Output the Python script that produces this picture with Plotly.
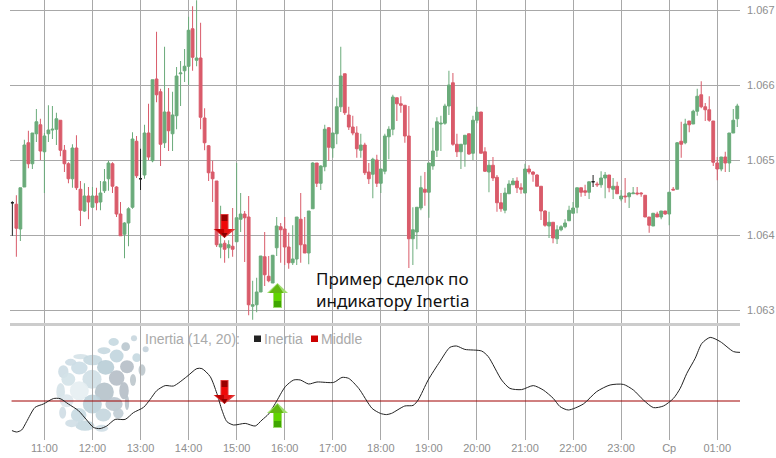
import plotly.graph_objects as go

W, H = 776, 458

# Quotes in points (1e-5) above 1.06000, one row per hour of 5-minute candles
BASE = 1.06
opens_pts = [
 443,441,408,464,523,495,535,547,511,535,540,541,
 553,513,495,475,516,461,432,452,437,452,444,459,
 475,495,464,428,401,416,437,525,475,480,536,499,
 608,591,523,564,535,559,615,619,625,675,633,636,
 556,519,484,472,384,389,383,385,391,421,428,424,
 305,307,324,371,345,336,383,411,408,384,363,368,
 421,387,376,435,496,469,491,543,516,535,571,615,
 560,544,536,513,520,484,481,500,469,485,531,541,
 583,575,573,532,395,404,436,461,457,492,513,548,
 549,572,603,521,511,521,535,509,553,564,511,484,
 493,477,443,433,455,467,472,463,456,488,484,480,
 465,432,412,417,395,407,411,419,429,437,463,459,
 457,471,468,467,476,480,461,465,448,452,451,455,
 456,456,453,424,412,428,424,432,428,461,461,525,
 523,552,548,565,587,571,567,552,496,488,504,496,
 536,555]
closes_pts = [
 443,409,463,520,495,536,551,512,532,540,541,555,
 513,495,475,516,463,433,452,444,452,443,456,471,
 496,465,428,399,416,435,528,479,475,536,504,607,
 587,521,564,539,560,612,616,625,673,637,636,557,
 523,483,475,387,388,381,387,381,423,428,423,307,
 307,324,372,347,339,373,412,407,384,363,368,424,
 387,376,432,496,469,492,541,517,536,571,612,563,
 544,536,515,520,483,475,501,469,488,532,541,584,
 575,573,532,395,407,437,463,457,496,512,551,549,
 572,600,521,511,521,533,508,553,564,509,485,493,
 476,443,435,456,468,472,463,461,488,484,481,465,
 432,413,417,396,407,411,416,433,436,463,457,457,
 471,471,467,476,480,463,465,455,452,451,456,456,
 455,455,424,413,429,424,432,428,457,460,523,521,
 548,547,565,585,571,567,553,497,488,504,496,536,
 553,572]
highs_pts = [
 445,453,463,527,539,536,568,555,536,573,572,563,
 553,520,497,521,533,472,469,464,464,463,472,488,
 499,497,465,444,417,437,537,532,515,547,575,607,
 671,595,651,596,591,624,632,648,691,705,713,683,
 569,520,499,472,439,393,393,436,496,456,432,452,
 339,343,372,404,372,373,424,416,424,403,413,424,
 456,424,432,497,496,493,547,544,536,583,651,615,
 571,559,545,535,523,496,503,507,488,535,545,587,
 583,585,573,572,437,437,479,484,496,543,557,559,
 575,619,616,535,521,533,535,559,571,564,517,500,
 504,480,456,463,473,476,477,469,495,493,485,481,
 465,433,431,417,413,413,421,439,444,463,463,467,
 471,480,471,485,484,480,476,471,460,476,457,464,
 464,457,453,424,429,431,432,432,457,464,524,551,
 555,552,567,595,605,576,585,552,504,504,511,536,
 568,575]
lows_pts = [
 399,371,392,464,489,488,524,500,456,524,528,520,
 505,484,469,463,460,412,431,421,437,433,433,456,
 459,456,424,399,369,385,435,476,460,475,500,497,
 577,492,516,512,512,541,572,604,600,619,625,541,
 513,472,444,384,369,363,369,371,391,404,364,293,
 287,297,324,332,337,336,372,363,360,355,360,360,
 363,376,361,435,464,460,485,499,503,521,564,560,
 540,533,503,503,480,468,449,464,456,481,501,533,
 552,563,523,356,360,381,433,439,423,487,504,512,
 547,560,519,504,488,491,507,500,549,509,484,457,
 472,431,431,429,455,467,456,455,456,481,471,465,
 420,411,396,389,388,405,409,419,429,429,451,452,
 448,464,464,463,449,457,448,455,445,443,436,455,
 453,451,424,403,412,424,421,427,413,460,461,503,
 521,537,548,559,569,552,551,492,473,485,484,484,
 536,544]
candle_minutes = [620 + 5 * k for k in range(len(opens_pts))]  # minutes after 00:00

inertia_minutes = [
 619.5,625.3,631.6,637.8,648.3,658.7,671.2,679.5,689.9,702.4,712.8,721.2,729.5,737.8,748.3,
 760.8,771.2,783.7,792,800.3,810.8,821.2,837.8,850.3,856.6,867,875.3,881.6,887.8,896.2,910.7,
 923.2,931.6,939.9,948.3,960.8,971.2,979.5,989.9,1000.3,1021.2,1031.6,1039.9,1052.4,1069.1,1079.5,
 1087,1093.3,1109.9,1120.3,1126.6,1139.1,1153.7,1166.2,1174.5,1184.9,1205.8,1214.1,1230.8,1241.2,
 1255.8,1270.3,1282.8,1295.3,1303.7,1314.1,1332.8,1349.5,1366.2,1382.8,1395.3,1407.8,1420.3,1432.8,
 1445.3,1453.7,1462,1472.4,1480.8,1491.2,1503.7,1520.3,1528.7]
inertia_values = [
 35.2,34.5,35.5,39.7,46.8,48.5,51.2,51.2,48.5,45.2,40.5,36.8,36.2,37.5,40.8,
 40.8,44.2,46.8,50.8,55.2,57.7,57.5,62.2,66.2,66.2,62.2,53.8,45.5,39.7,38,38.8,
 37.5,40.5,43.5,48.8,57.2,60.5,60.5,58.5,59.5,59.3,61.8,61.3,56.3,46.3,43.8,
 43.2,43.8,47.5,47.8,50.5,60.5,69.7,76.8,77.5,75.8,75,72.2,60.5,56.3,
 55.7,57.7,55.5,51.3,47.2,45.5,48.5,54.7,58,58.3,55.5,50.5,46.7,47.5,
 51.3,56.3,63.8,71.3,78.8,81.8,79.7,74.7,74.3]
middle_level = 50

hour_ticks = [660,720,780,840,900,960,1020,1080,1140,1200,1260,1320,1380,1440,1500]
hour_labels = ["11:00","12:00","13:00","14:00","15:00","16:00","17:00","18:00","19:00",
               "20:00","21:00","22:00","23:00","Ср","01:00"]
price_ticks = [1.063, 1.064, 1.065, 1.066, 1.067]
price_labels = ["1.063", "1.064", "1.065", "1.066", "1.067"]

GREEN, RED, GRID, TXT = "#6aab7a", "#d95b6a", "#a8a8a8", "#8e8e8e"
FONT = "Liberation Sans"


def px(x):
    return x / W


def py(y):
    return 1 - y / H


def to_price(vals):
    return [BASE + v / 1e5 for v in vals]


reg = [i for i in range(len(opens_pts)) if opens_pts[i] != closes_pts[i]]
doji = [i for i in range(len(opens_pts)) if opens_pts[i] == closes_pts[i]]


def pick(arr, idx):
    return [arr[i] for i in idx]


fig = go.Figure()
fig.add_trace(go.Candlestick(
    x=pick(candle_minutes, reg), open=to_price(pick(opens_pts, reg)), high=to_price(pick(highs_pts, reg)),
    low=to_price(pick(lows_pts, reg)), close=to_price(pick(closes_pts, reg)),
    increasing=dict(line=dict(color=GREEN, width=1), fillcolor=GREEN),
    decreasing=dict(line=dict(color=RED, width=1), fillcolor=RED),
    whiskerwidth=0, hoverinfo="skip", xaxis="x", yaxis="y"))
fig.add_trace(go.Candlestick(
    x=pick(candle_minutes, doji), open=to_price(pick(opens_pts, doji)), high=to_price(pick(highs_pts, doji)),
    low=to_price(pick(lows_pts, doji)), close=to_price(pick(closes_pts, doji)),
    increasing=dict(line=dict(color="#222222", width=1), fillcolor="#222222"),
    decreasing=dict(line=dict(color="#222222", width=1), fillcolor="#222222"),
    whiskerwidth=0, hoverinfo="skip", xaxis="x", yaxis="y"))
fig.add_trace(go.Scatter(
    x=[619, 1529], y=[middle_level, middle_level], mode="lines",
    line=dict(color="#a00000", width=1), hoverinfo="skip", xaxis="x2", yaxis="y2"))
fig.add_trace(go.Scatter(
    x=inertia_minutes, y=inertia_values, mode="lines",
    line=dict(color="#222222", width=1, shape="spline", smoothing=0.7), hoverinfo="skip", xaxis="x2", yaxis="y2"))

shapes = []


def poly(points, color, opacity=1.0, layer="above"):
    d = "M" + " L".join(f"{px(a):.5f},{py(b):.5f}" for a, b in points) + " Z"
    shapes.append(dict(type="path", path=d, xref="paper", yref="paper", fillcolor=color,
                       line=dict(width=0), opacity=opacity, layer=layer))


def down_arrow(x, top):
    L, R = x - 11, x + 11
    s1, s2 = x - 4, x + 4
    m, tip = top + 15, top + 24
    poly([(s1, top), (s2, top), (s2, m), (R, m), (x, tip), (L, m), (s1, m)], "#e03a3a")
    poly([(s1 + 1, top + 1), (s2 - 1, top + 1), (s2 - 1, top + 7), (s1 + 1, top + 7)], "#9a0000")
    poly([(s1 + 1, top + 7), (s2 - 1, top + 7), (s2 - 1, m), (s1 + 1, m)], "#f00808")
    poly([(L + 1, m), (x, m), (x, tip - 1)], "#c00000")
    poly([(x, m), (R - 3, m), (x, tip - 1)], "#e81414")
    poly([(x - 3, tip - 5), (x + 3, tip - 5), (x, tip)], "#8a0000")


def up_arrow(x, top):
    L, R = x - 10.5, x + 10.5
    s1, s2 = x - 4.5, x + 4.5
    m, bot = top + 10, top + 25
    poly([(x, top), (R, m), (s2, m), (s2, bot), (s1, bot), (s1, m), (L, m)], "#a0dc70")
    poly([(x, top + 1), (x + 6, m), (L + 2, m)], "#62b810")
    poly([(s1 + 1, m), (s2 - 1, m), (s2 - 1, top + 18), (s1 + 1, top + 18)], "#60d400")
    poly([(s1 + 1, top + 18), (s2 - 1, top + 18), (s2 - 1, bot - 1), (s1 + 1, bot - 1)], "#3fa600")


for top in (214, 380):
    down_arrow(224.5, top)
for top in (283, 403):
    up_arrow(277.5, top)

# separator between panels
shapes.append(dict(type="rect", xref="paper", yref="paper", x0=px(10), x1=px(740), y0=py(326), y1=py(323),
                   fillcolor="#cccccc", line=dict(width=0)))

# legend swatches
for x0, col in ((254, "#222222"), (311, "#cc0000")):
    shapes.append(dict(type="rect", xref="paper", yref="paper", x0=px(x0), x1=px(x0 + 7), y0=py(342), y1=py(335.5),
                       fillcolor=col, line=dict(width=0)))

# watermark blobs (image-space position of each blob inside the logo)
logo = [
 (252,25,7,7,"#c8d6de"),(287,58,7,7,"#c4d2da"),(191,36,12,9,"#c5d8e0"),(227,50,10,10,"#b9c6ce"),
 (162,62,15,8,"#c6d8e0"),(200,78,16,15,"#c1d5de"),(260,83,10,10,"#c5d8e0"),(92,80,17,6,"#d5e2e8"),
 (62,97,13,8,"#ccdce4"),(128,90,22,12,"#c5d8e0"),(167,112,20,17,"#b8cdd6"),(231,110,16,15,"#b5bec6"),
 (276,120,8,13,"#bcc6cc"),(88,114,19,15,"#cbdde5"),(40,125,12,15,"#cddde4"),(55,148,16,15,"#d3e2e8"),
 (126,148,22,22,"#cfdfe6"),(200,144,18,18,"#b5bec6"),(249,150,7,14,"#bcc6cc"),(88,182,22,22,"#e6eef2"),
 (32,185,10,20,"#d5e2e8"),(163,186,22,22,"#b5c2ca"),(222,182,11,20,"#b5bec6"),(127,222,22,22,"#bcd1da"),
 (192,222,20,16,"#bcc8d0"),(231,218,5,17,"#b8c3cb"),(50,212,16,15,"#dde7ec"),(38,248,8,14,"#cfdde4"),
 (86,255,18,16,"#c8dae2"),(160,255,18,15,"#c4d6de"),(205,250,12,12,"#c0ccd4"),(105,287,22,12,"#c5d8e0"),
 (65,280,15,9,"#cfdee5"),(155,295,15,8,"#cfdee5"),
]
GROW = 1.3
for zx, zy, rx, ry, col in logo:
    cx, cy = 50 + zx / 3, 330 + zy / 3
    shapes.append(dict(type="circle", xref="paper", yref="paper", layer="below",
                       x0=px(cx - GROW * rx / 3), x1=px(cx + GROW * rx / 3),
                       y0=py(cy + GROW * ry / 3), y1=py(cy - GROW * ry / 3),
                       fillcolor=col, line=dict(width=0), opacity=0.9))

ann = []


def text(x, y, s, size, color, font=FONT, anchor="left"):
    ann.append(dict(xref="paper", yref="paper", x=px(x), y=py(y), text=s, showarrow=False, align="left",
                    xanchor=anchor, yanchor="middle", font=dict(family=font, size=size, color=color)))


text(143, 338.5, "Inertia (14, 20):", 14, "#aaaaaa")
text(262, 338.5, "Inertia", 14, "#aaaaaa")
text(319, 338.5, "Middle", 14, "#aaaaaa")
text(313.5, 289, "Пример сделок по<br>индикатору Inertia", 17, "#111111", font="Noto Sans")

xrange_ = [617.05, 1528.4]
xcommon = dict(range=xrange_, domain=[px(10), px(740)], tickvals=hour_ticks, ticktext=hour_labels,
               showgrid=True, gridcolor=GRID, gridwidth=1, zeroline=False, showline=False, ticks="",
               fixedrange=True)
fig.update_layout(
    width=W, height=H, margin=dict(l=0, r=0, t=0, b=0), paper_bgcolor="white", plot_bgcolor="white",
    showlegend=False, boxgap=0, boxgroupgap=0.3, shapes=shapes, annotations=ann,
    font=dict(family=FONT, size=11, color=TXT),
    xaxis=dict(xcommon, anchor="y", showticklabels=False, rangeslider=dict(visible=False)),
    xaxis2=dict(xcommon, anchor="y2", showticklabels=True, tickfont=dict(family=FONT, size=11, color=TXT)),
    yaxis=dict(domain=[py(323), py(0)], range=[1.067 - 313 / 75000, 1.067 + 10 / 75000], side="right",
               tickvals=price_ticks, ticktext=price_labels, showgrid=True, gridcolor=GRID, gridwidth=1,
               zeroline=False, showline=False, ticks="", tickfont=dict(family=FONT, size=11, color=TXT),
               ticklabelstandoff=6, fixedrange=True),
    yaxis2=dict(domain=[py(440), py(326)], range=[30.5, 87.5], showgrid=False, showticklabels=False,
                zeroline=False, showline=False, ticks="", fixedrange=True),
)
fig.write_html("out.html", config=dict(displayModeBar=False), post_script="document.body.style.margin='0';")
